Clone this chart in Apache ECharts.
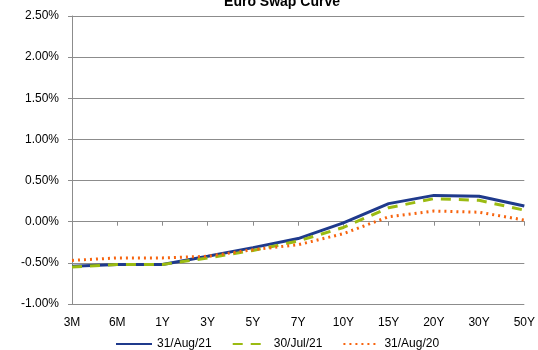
<!DOCTYPE html>
<html><head><meta charset="utf-8">
<script src="https://cdn.jsdelivr.net/npm/echarts@6/dist/echarts.min.js"></script>
<style>html,body{margin:0;padding:0;background:#fff}#c{width:538px;height:350px}</style>
</head><body><div id="c"></div>
<script>
var categories = ['3M','6M','1Y','3Y','5Y','7Y','10Y','15Y','20Y','30Y','50Y'];
var aug21 = [-0.54,-0.52,-0.52,-0.42,-0.315,-0.205,-0.015,0.22,0.32,0.31,0.19];
var jul21 = [-0.55,-0.52,-0.52,-0.44,-0.35,-0.235,-0.07,0.17,0.28,0.26,0.14];
var aug20 = [-0.47,-0.44,-0.44,-0.42,-0.34,-0.28,-0.145,0.06,0.13,0.115,0.02];
var seriesNames = ['31/Aug/21','30/Jul/21','31/Aug/20'];
var yTicks = {min:-1, max:2.5, interval:0.5};

var font = 'Liberation Sans, Arial, sans-serif';
var chart = echarts.init(document.getElementById('c'));
chart.setOption({
  animation:false,
  title:{text:'Euro Swap Curve', left:277, textAlign:'center', top:-10,
    textStyle:{fontFamily:font, fontWeight:'bold', fontSize:14, color:'#000'}},
  grid:{left:72, right:11, top:16, bottom:46},
  legend:{left:110, top:333, itemWidth:36, itemHeight:10, itemGap:20,
    itemStyle:{opacity:0},
    textStyle:{fontFamily:font, fontSize:12, color:'#000'},
    data:seriesNames},
  xAxis:[
    {type:'category', data:categories, boundaryGap:false,
     axisLine:{onZero:true, lineStyle:{color:'#8c8c8c'}},
     axisTick:{show:true, length:4, inside:false, lineStyle:{color:'#8c8c8c'}},
     axisLabel:{show:false}},
    {type:'category', data:categories, boundaryGap:false, position:'bottom',
     axisLine:{show:false, onZero:false}, axisTick:{show:false},
     axisLabel:{fontFamily:font, fontSize:12, color:'#000', margin:13}}
  ],
  yAxis:{type:'value', min:yTicks.min, max:yTicks.max, interval:yTicks.interval,
    axisLine:{show:true, lineStyle:{color:'#8c8c8c'}},
    axisTick:{show:true, length:4, lineStyle:{color:'#8c8c8c'}},
    splitLine:{lineStyle:{color:'#8c8c8c'}},
    axisLabel:{fontFamily:font, fontSize:12, color:'#000', margin:13,
      formatter:function(v){return v.toFixed(2)+'%';}}},
  series:[
    {name:seriesNames[0], type:'line', data:aug21, symbol:'none', xAxisIndex:0,
     lineStyle:{color:'#1f3a8c', width:3, type:'solid'}, itemStyle:{color:'#1f3a8c'}},
    {name:seriesNames[1], type:'line', data:jul21, symbol:'none', xAxisIndex:0,
     lineStyle:{color:'#9bbb12', width:3, type:[10,8]}, itemStyle:{color:'#9bbb12'}},
    {name:seriesNames[2], type:'line', data:aug20, symbol:'none', xAxisIndex:0,
     lineStyle:{color:'#f7640f', width:3, type:[2,4]}, itemStyle:{color:'#f7640f'}}
  ]
});
</script></body></html>
